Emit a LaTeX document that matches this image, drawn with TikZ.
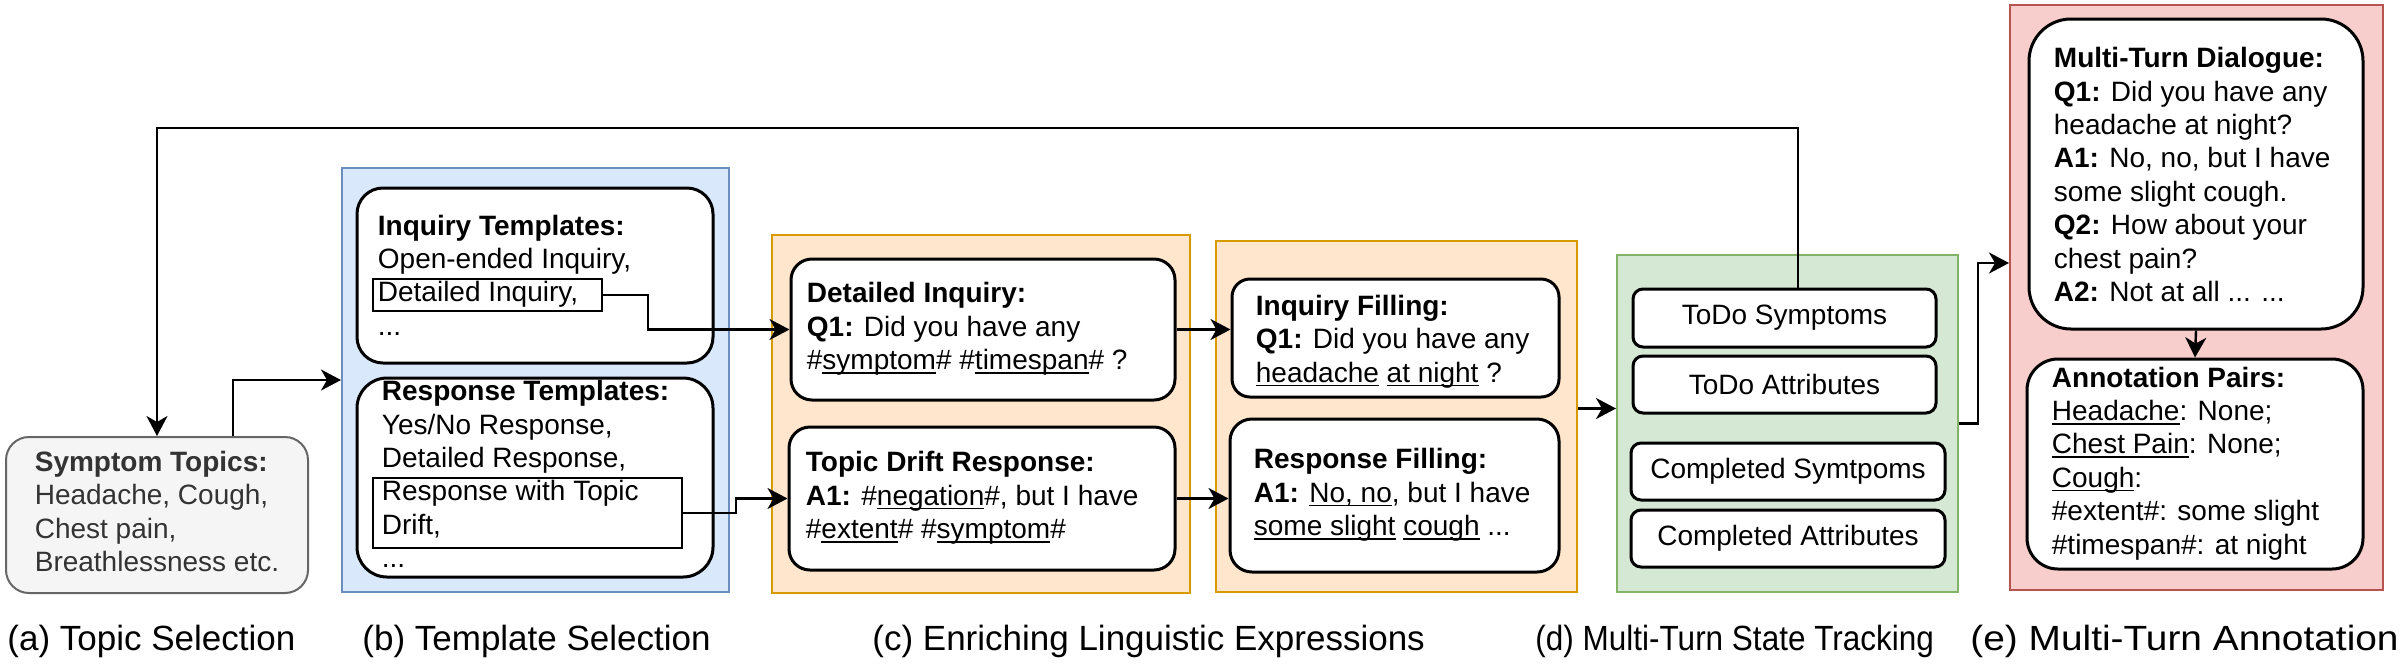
\documentclass[tikz,border=0pt]{standalone}
\usepackage{fontspec}
\setmainfont{Liberation Sans}
\usepackage{graphicx}
\usetikzlibrary{arrows.meta}
\definecolor{bluef}{HTML}{DAE8FC}\definecolor{blued}{HTML}{6C8EBF}
\definecolor{orf}{HTML}{FFE6CC}\definecolor{ord}{HTML}{D79B00}
\definecolor{grf}{HTML}{D5E8D4}\definecolor{grd}{HTML}{82B366}
\definecolor{redf}{HTML}{F8CECC}\definecolor{redd}{HTML}{B85450}
\definecolor{grayf}{HTML}{F5F5F5}\definecolor{grayd}{HTML}{666666}
\definecolor{graytxt}{HTML}{333333}
\newsavebox\ulbox
\newcommand{\ulx}[1]{\sbox\ulbox{#1}\rlap{\rule[-2pt]{\wd\ulbox}{0.75pt}}\usebox\ulbox}
\newcommand{\bodyfont}{\fontsize{14pt}{16.7pt}\selectfont}
\newcommand{\capfont}{\fontsize{17.5pt}{21pt}\selectfont}
\tikzset{
  container/.style={draw=#1d, fill=#1f, line width=1pt, inner sep=0pt},
  rbox/.style={draw=black, fill=white, line width=1.5pt, inner sep=0pt, font=\bodyfont},
  selrect/.style={draw=black, line width=1pt, inner sep=0pt},
  txt/.style={inner sep=0pt, align=left, font=\bodyfont, anchor=west},
  captxt/.style={inner sep=0pt, font=\capfont, anchor=base west},
  arr/.style={line width=1.2pt, -{Stealth[length=10pt,width=10.5pt,inset=3pt]}},
}
\begin{document}
\begin{tikzpicture}[x=0.5pt, y=-0.5pt]
\useasboundingbox (0,0) rectangle (2408,666);
% containers
\node[container=blue, minimum width=193.5pt, minimum height=212pt] (blue) at (535.5,380) {};
\node[container=or, minimum width=209pt, minimum height=179pt] (o1) at (981,414) {};
\node[container=or, minimum width=180.5pt, minimum height=175.5pt] (o2) at (1396.5,416.5) {};
\node[container=gr, minimum width=170.5pt, minimum height=168.5pt] (green) at (1787.5,423.5) {};
\node[container=red, minimum width=186.5pt, minimum height=292.5pt] (red) at (2196.5,297.5) {};
% symptom topics
\node[draw=grayd, fill=grayf, line width=1pt, rounded corners=11.5pt, inner sep=0pt,
      minimum width=151pt, minimum height=78pt, align=left, font=\bodyfont, text=graytxt] (sym) at (157,515)
  {\strut\textbf{Symptom Topics:}\\Headache, Cough,\\Chest pain,\\Breathlessness etc.\strut};
% template boxes
\node[rbox, rounded corners=13pt, minimum width=178pt, minimum height=87.5pt] (inq) at (535,275.5) {};
\node[rbox, rounded corners=15pt, minimum width=178pt, minimum height=99.5pt] (resp) at (535,477.5) {};
\node[txt] (inqT) at ([xshift=11pt,yshift=-1.5pt]inq.west)
  {\strut\textbf{Inquiry Templates:}\\Open-ended Inquiry,\\Detailed Inquiry,\\...\strut};
\node[txt] (respT) at ([xshift=13pt]resp.west)
  {\strut\textbf{Response Templates:}\\Yes/No Response,\\Detailed Response,\\Response with Topic\\Drift,\\...\strut};
\node[selrect, minimum width=114.5pt, minimum height=16pt] (rectDI) at (487.5,295) {};
\node[selrect, minimum width=154.5pt, minimum height=35pt] (rectRD) at (527.5,513) {};
% enriching boxes
\node[rbox, rounded corners=10.5pt, minimum width=192pt, minimum height=70.5pt] (di) at (983,329.5) {};
\node[rbox, rounded corners=10.5pt, minimum width=193pt, minimum height=71.5pt] (td) at (982,498.5) {};
\node[txt] (diT) at ([xshift=8.5pt]di.west)
  {\strut\textbf{Detailed Inquiry:}\\\textbf{Q1:} Did you have any\\\#\ulx{symptom}\# \#\ulx{timespan}\# ?\strut};
\node[txt] (tdT) at ([xshift=9pt]td.west)
  {\strut\textbf{Topic Drift Response:}\\\textbf{A1:} \#\ulx{negation}\#, but I have\\\#\ulx{extent}\# \#\ulx{symptom}\#\strut};
\node[rbox, rounded corners=9pt, minimum width=163.5pt, minimum height=59pt] (inf) at (1395.5,338) {};
\node[rbox, rounded corners=11pt, minimum width=164.5pt, minimum height=76.5pt] (rf) at (1394.5,495.5) {};
\node[txt] (infT) at ([xshift=12.5pt,yshift=-2pt]inf.west)
  {\strut\textbf{Inquiry Filling:}\\\textbf{Q1:} Did you have any\\\ulx{headache} \ulx{at night} ?\strut};
\node[txt] (rfT) at ([xshift=12.5pt]rf.west)
  {\strut\textbf{Response Filling:}\\\textbf{A1:} \ulx{No, no}, but I have\\\ulx{some slight} \ulx{cough} ...\strut};
% state tracking
\node[rbox, rounded corners=5pt, minimum width=151.5pt, minimum height=29pt] (ts) at (1784.5,318) {ToDo Symptoms};
\node[rbox, rounded corners=5pt, minimum width=151.5pt, minimum height=28.5pt] (ta) at (1784.5,384.5) {ToDo Attributes};
\node[rbox, rounded corners=5pt, minimum width=157pt, minimum height=28.5pt] (cs) at (1788,471.5) {Completed Symtpoms};
\node[rbox, rounded corners=5pt, minimum width=157pt, minimum height=28.5pt] (ca) at (1788,538.5) {Completed Attributes};
% annotation
\node[rbox, rounded corners=21pt, minimum width=167pt, minimum height=155pt] (mtd) at (2196,174) {};
\node[rbox, rounded corners=15.5pt, minimum width=168pt, minimum height=105pt] (ap) at (2195,464) {};
\node[txt] (mtdT) at ([xshift=13pt,yshift=-2pt]mtd.west)
  {\strut\textbf{Multi-Turn Dialogue:}\\\textbf{Q1:} Did you have any\\headache at night?\\\textbf{A1:} No, no, but I have\\some slight cough.\\\textbf{Q2:} How about your\\chest pain?\\\textbf{A2:} Not at all ... ...\strut};
\node[txt] (apT) at ([xshift=13pt]ap.west)
  {\strut\textbf{Annotation Pairs:}\\\ulx{Headache}: None;\\\ulx{Chest Pain}: None;\\\ulx{Cough}:\\\#extent\#: some slight\\\#timespan\#: at night\strut};
% captions
\node[captxt] (capA) at (7,650) {(a) Topic Selection};
\node[captxt] (capB) at (362,650) {(b) Template Selection};
\node[captxt] (capC) at (872,650) {(c) Enriching Linguistic Expressions};
\node[captxt] (capD) at (1535,650) {\scalebox{0.9}[1]{(d) Multi-Turn State Tracking}};
\node[captxt] (capE) at (1970,650) {\scalebox{1.11}[1]{(e) Multi-Turn Annotation}};
% connectors
\coordinate (fbs) at (1798,289);
\coordinate (fbc) at (157,128);
\draw[arr] (fbs) |- (fbc) -- (sym.north);
\draw[arr] ([xshift=38pt]sym.north) |- (blue.west);
\draw[arr] (rectDI.east) -- ++(22.5pt,0pt) |- (di.west);
\draw[arr] (rectRD.east) -- ++(26.5pt,0pt) |- (td.west);
\draw[arr] (di.east) -- (di.east -| inf.west);
\draw[arr] (td.east) -- (td.east -| rf.west);
\draw[arr] ([yshift=4pt]o2.east) -- ([yshift=4pt]o2.east -| green.west);
\draw[arr] (green.east) -- ++(9.5pt,0pt) |- ([yshift=17.25pt]red.west);
\draw[arr] (mtd.south) -- (ap.north);
\end{tikzpicture}
\end{document}
